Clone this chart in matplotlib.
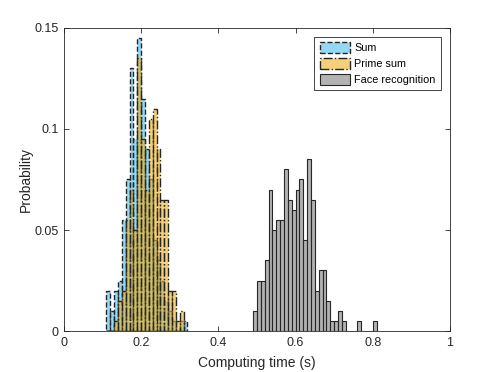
import numpy as np
import matplotlib
matplotlib.use("Agg")
import matplotlib.pyplot as plt
from matplotlib.patches import Patch

plt.rcParams["font.family"] = ["Liberation Sans", "DejaVu Sans"]

# bin width 0.01, left edge of first bin for each series
bin_width = 0.01
sum_start = 0.11
prime_start = 0.11
face_start = 0.49

# probability per bin
sum_prob = [0.02, 0.01, 0.02, 0.025, 0.055, 0.075, 0.13, 0.095, 0.145, 0.115,
            0.09, 0.075, 0.045, 0.035, 0.025, 0.015, 0.01, 0.005, 0.0, 0.005, 0.005]
prime_prob = [0.0, 0.0, 0.005, 0.015, 0.02, 0.055, 0.07, 0.05, 0.135, 0.095,
              0.07, 0.105, 0.11, 0.09, 0.065, 0.065, 0.02, 0.02, 0.005, 0.01]
face_prob = [0.01, 0.025, 0.025, 0.035, 0.07, 0.05, 0.055, 0.055, 0.08, 0.065,
             0.06, 0.07, 0.075, 0.045, 0.085, 0.065, 0.02, 0.03, 0.03, 0.015,
             0.005, 0.005, 0.01, 0.005, 0.0, 0.0, 0.0, 0.005, 0.0, 0.0, 0.0, 0.005]

labels = ["Sum", "Prime sum", "Face recognition"]

blue = "#4DBEEE"
yellow = "#EDB120"
gray = "#7f7f7f"
edge = "#262626"


def left_edges(start, n):
    return start + bin_width * np.arange(n)


fig = plt.figure(figsize=(4.98, 3.72), dpi=100)
ax = fig.add_axes([0.1285, 0.110, 0.775, 0.815])

styles = [
    dict(facecolor=matplotlib.colors.to_rgba(blue, 0.6), edgecolor=edge, linestyle="--", linewidth=1.0),
    dict(facecolor=matplotlib.colors.to_rgba(yellow, 0.6), edgecolor=edge, linestyle="-.", linewidth=1.0),
    dict(facecolor=matplotlib.colors.to_rgba(gray, 0.6), edgecolor=edge, linestyle="-", linewidth=0.8),
]

ax.bar(left_edges(sum_start, len(sum_prob)), sum_prob, width=bin_width, align="edge", **styles[0])
ax.bar(left_edges(prime_start, len(prime_prob)), prime_prob, width=bin_width, align="edge", **styles[1])
ax.bar(left_edges(face_start, len(face_prob)), face_prob, width=bin_width, align="edge", **styles[2])

ax.set_xlim(0, 1)
ax.set_ylim(0, 0.15)
ax.set_xticks([0, 0.2, 0.4, 0.6, 0.8, 1])
ax.set_xticklabels(["0", "0.2", "0.4", "0.6", "0.8", "1"])
ax.set_yticks([0, 0.05, 0.1, 0.15])
ax.set_yticklabels(["0", "0.05", "0.1", "0.15"])
ax.tick_params(direction="in", top=True, right=True, length=3.5, width=0.6,
               labelsize=9, colors="#262626", pad=4)
for s in ax.spines.values():
    s.set_color("#262626")
    s.set_linewidth(0.6)

ax.set_xlabel("Computing time (s)", fontsize=10, color="#262626", labelpad=5)
ax.set_ylabel("Probability", fontsize=10, color="#262626", labelpad=1)

handles = [Patch(**st) for st in styles]
leg = ax.legend(handles, labels, loc="upper right", fontsize=7.8, fancybox=False,
                framealpha=1, edgecolor="#262626", borderaxespad=0.8,
                handlelength=2.8, handleheight=1.25, handletextpad=0.4,
                borderpad=0.5, labelspacing=0.4)
leg.get_frame().set_linewidth(0.6)

fig.savefig("out.png", dpi=100)
